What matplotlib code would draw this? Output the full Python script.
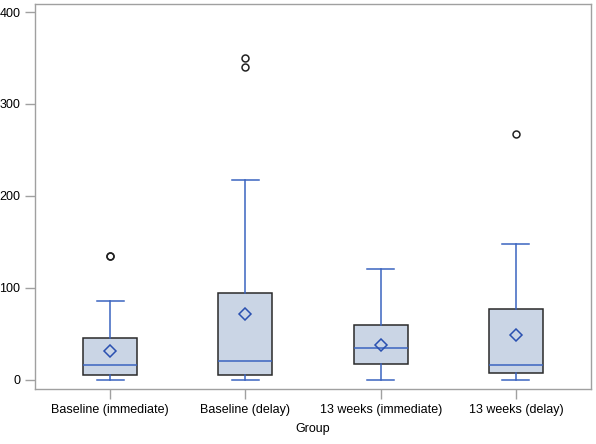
import numpy as np
import matplotlib.pyplot as plt

plt.rcParams['font.family'] = ['Liberation Sans', 'DejaVu Sans']

groups = ['Baseline (immediate)', 'Baseline (delay)', '13 weeks (immediate)', '13 weeks (delay)']
whislo = [0, 0, 0, 0]
q1 = [5.1, 5.4, 17.0, 7.6]
med = [16.3, 20.7, 35.1, 15.9]
q3 = [45.3, 94.2, 59.4, 77.2]
whishi = [85.5, 217.4, 120.3, 147.8]
means = [31.5, 71.4, 37.7, 48.9]
outliers = [[134.3, 135.0], [340.6, 349.6], [], [267.0]]

blue = '#3b64c0'
frame = '#a0a0a0'

stats = []
for i, g in enumerate(groups):
    stats.append(dict(label=g, whislo=whislo[i], q1=q1[i], med=med[i], q3=q3[i],
                      whishi=whishi[i], mean=means[i], fliers=outliers[i]))

fig = plt.figure(figsize=(5.96, 4.44), dpi=100)
ax = fig.add_axes([35/596, 55/444, 556/596, 385/444])

ax.bxp(stats, positions=range(4), widths=0.4, patch_artist=True, showmeans=True,
       boxprops=dict(facecolor='#cad5e5', edgecolor='#2a2a2a', linewidth=1.1),
       medianprops=dict(color=blue, linewidth=1.1),
       whiskerprops=dict(color=blue, linewidth=1.1),
       capprops=dict(color=blue, linewidth=1.1),
       capwidths=0.2,
       meanprops=dict(marker='D', markersize=6, markerfacecolor='none',
                      markeredgecolor='#2a50b0', markeredgewidth=1.1),
       flierprops=dict(marker='o', markersize=5, markerfacecolor='none',
                       markeredgecolor='#222222', markeredgewidth=1.1))

ax.set_xlim(-0.555, 3.555)
ax.set_ylim(-9.8, 408.7)
ax.set_yticks([0, 100, 200, 300, 400])
ax.set_xticks(range(4))
ax.set_xticklabels(groups)
ax.set_xlabel('Group', fontsize=9, labelpad=5)
ax.tick_params(labelsize=9, color=frame, length=7, width=1)
for s in ax.spines.values():
    s.set_color(frame)
    s.set_linewidth(1)

fig.savefig('out.png', dpi=100)
